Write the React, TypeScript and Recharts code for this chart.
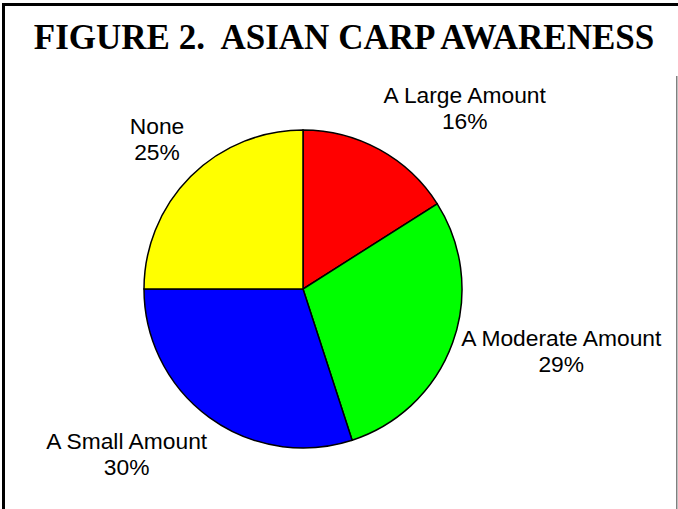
import { PieChart, Pie, Cell } from "recharts";

const categories = ["A Large Amount", "A Moderate Amount", "A Small Amount", "None"];
const shares = [16, 29, 30, 25];
const sliceColors = ["#FF0000", "#00FF00", "#0000FF", "#FFFF00"];

const chartData = categories.map((name, i) => ({ name, value: shares[i] }));

// small per-label shifts so the text sits where the original placed it
const labelNudge = [
  [41, -14],
  [6, -3],
  [-29, 10],
  [-10, -15],
];

const FONT = "'Liberation Sans', Arial, sans-serif";
const FONT_SIZE = 22.8;
const RADIAN = Math.PI / 180;

const renderLabel = (props: any) => {
  const { cx, cy, midAngle, outerRadius, index, name, value } = props;
  const dx = Math.cos(-midAngle * RADIAN);
  const dy = Math.sin(-midAngle * RADIAN);
  // rough box size of the two-line label
  const w = name.length * 0.53 * 22;
  const h = 44;
  const ax = cx + (outerRadius + 10) * dx;
  const ay = cy + (outerRadius + 10) * dy;
  const bx = ax + (dx * w) / 2 + labelNudge[index][0];
  const by = ay + (dy * h) / 2 + labelNudge[index][1];
  return (
    <text
      x={bx}
      y={by - 5}
      textAnchor="middle"
      fill="#000"
      style={{ fontFamily: FONT, fontSize: FONT_SIZE }}
    >
      <tspan x={bx} y={by - 5}>
        {name}
      </tspan>
      <tspan x={bx} y={by + 21}>
        {`${value}%`}
      </tspan>
    </text>
  );
};

export default function App() {
  return (
    <div
      style={{
        position: "absolute",
        left: 0,
        top: 0,
        width: 678,
        height: 509,
        background: "#fff",
      }}
    >
      <PieChart width={678} height={509} margin={{ top: 0, right: 0, bottom: 0, left: 0 }}>
        <Pie
          data={chartData}
          dataKey="value"
          nameKey="name"
          cx={303}
          cy={289}
          outerRadius={159}
          startAngle={90}
          endAngle={-270}
          stroke="#000"
          strokeWidth={1.5}
          labelLine={false}
          label={renderLabel}
          isAnimationActive={false}
        >
          {chartData.map((d, i) => (
            <Cell key={d.name} fill={sliceColors[i]} />
          ))}
        </Pie>
      </PieChart>

      {/* frame and title */}
      <svg
        width={678}
        height={509}
        style={{ position: "absolute", left: 0, top: 0, pointerEvents: "none" }}
      >
        <rect x={2} y={3} width={676} height={3} fill="#000" />
        <rect x={2} y={3} width={3} height={506} fill="#000" />
        <rect x={676} y={76} width={1.5} height={433} fill="#808080" />
        <text
          x={344}
          y={49}
          textAnchor="middle"
          fill="#000"
          style={{
            fontFamily: "'Liberation Serif', 'Times New Roman', serif",
            fontWeight: "bold",
            fontSize: 35,
            whiteSpace: "pre",
          }}
        >
          FIGURE 2.  ASIAN CARP AWARENESS
        </text>
      </svg>
    </div>
  );
}
